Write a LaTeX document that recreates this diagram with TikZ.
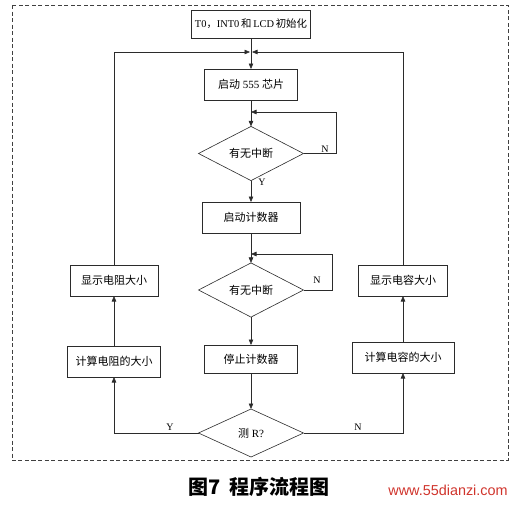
\documentclass[tikz,border=0pt]{standalone}
\usepackage{fontspec}
\setmainfont{Liberation Serif}
\newfontfamily\cjk{Noto Sans CJK SC}
\newfontfamily\wmfont{Liberation Sans}
\usetikzlibrary{arrows.meta,shapes.geometric}
\definecolor{cLine}{HTML}{2B2B2B}
\definecolor{cMark}{HTML}{D0342C}

\begin{document}
\begin{tikzpicture}[x=1pt, y=-1pt,
    every node/.style={inner sep=0pt, outer sep=0pt},
    proc/.style ={draw=cLine, line width=.6pt, fill=white, align=center,
                  font=\fontsize{11}{13}\selectfont, minimum height=31pt},
    test/.style ={diamond, draw=cLine, line width=.6pt, fill=white, align=center,
                  font=\fontsize{11}{13}\selectfont, minimum width=105pt, minimum height=48pt},
    yn/.style   ={font=\fontsize{10}{12}\selectfont},
    ar/.style   ={-{Triangle[length=5.5pt,width=4.5pt]}, draw=cLine, line width=.6pt},
    ln/.style   ={draw=cLine, line width=.6pt},
    frame/.style={draw=black!75, dash pattern=on 4pt off 2.5pt, line width=.6pt}]

\def\CX{251}  \def\LX{114}  \def\RX{403}   % column centres

\useasboundingbox (0,0) rectangle (526,504);
\draw[frame] (12,5) rectangle (508,460);

% ── main column ─────────────────────────────────────────────────────────
\node[proc, minimum width=119pt, minimum height=28pt, font=\fontsize{10.4}{12}\selectfont] (init) at (\CX,24)
  {T0{\cjk ，}INT0\,{\cjk 和}\,LCD\,{\cjk 初始化}};
\node[proc, minimum width=93pt] (start) at (\CX,84.5) {{\cjk 启动} 555 {\cjk 芯片}};
\node[test] (d1) at (\CX,153.5) {\cjk 有无中断};
\node[proc, minimum width=98pt] (cnt) at (\CX,217.5) {\cjk 启动计数器};
\node[test] (d2) at (\CX,290) {\cjk 有无中断};
\node[proc, minimum width=93pt, minimum height=28pt] (stop) at (\CX,359) {\cjk 停止计数器};
\node[test] (d3) at (\CX,433) {{\cjk 测} R?};

% ── side columns ────────────────────────────────────────────────────────
\node[proc, minimum width=88pt] (dispR) at (\LX,280.5) {\cjk 显示电阻大小};
\node[proc, minimum width=93pt] (calcR) at (\LX,361.5) {\cjk 计算电阻的大小};
\node[proc, minimum width=89pt] (dispC) at (\RX,280.5) {\cjk 显示电容大小};
\node[proc, minimum width=102pt] (calcC) at (\RX,357.5) {\cjk 计算电容的大小};

% ── loop points ─────────────────────────────────────────────────────────
\coordinate (jn) at (\CX,52);
\coordinate (l1) at (\CX,112);  \coordinate (r1) at (336,112);
\coordinate (l2) at (\CX,254);  \coordinate (r2) at (332,254);

% ── arrows ──────────────────────────────────────────────────────────────
\draw[ar] (init.south) -- (start.north);
\draw[ar] (start.south) -- (d1.north);
\draw[ar] (d1.east) -| (r1) -- (l1);
\draw[ar] (d1.south) -- (cnt.north);
\draw[ar] (cnt.south) -- (d2.north);
\draw[ar] (d2.east) -| (r2) -- (l2);
\draw[ar] (d2.south) -- (stop.north);
\draw[ar] (stop.south) -- (d3.north);
\draw[ar] (d3.west) -| (calcR.south);
\draw[ar] (d3.east) -| (calcC.south);
\draw[ar] (calcR.north) -- (dispR.south);
\draw[ar] (calcC.north) -- (dispC.south);
\draw[ar] (dispR.north) |- ([xshift=-1pt]jn);
\draw[ar] (dispC.north) |- ([xshift=1pt]jn);

% ── branch labels ───────────────────────────────────────────────────────
\node[yn] (n1) at (325,149) {N};
\node[yn] (y1) at (262,182) {Y};
\node[yn] (n2) at (317,280) {N};
\node[yn] (y3) at (170,427) {Y};
\node[yn] (n3) at (358,427) {N};

% ── caption ─────────────────────────────────────────────────────────────
\node[font=\cjk\bfseries\fontsize{20}{24}\selectfont] (cap) at (259,487) {图7\ \ 程序流程图};
\node[font=\wmfont\fontsize{14.4}{16}\selectfont, text=cMark] (wm) at (448,490) {www.55dianzi.com};
\end{tikzpicture}
\end{document}
